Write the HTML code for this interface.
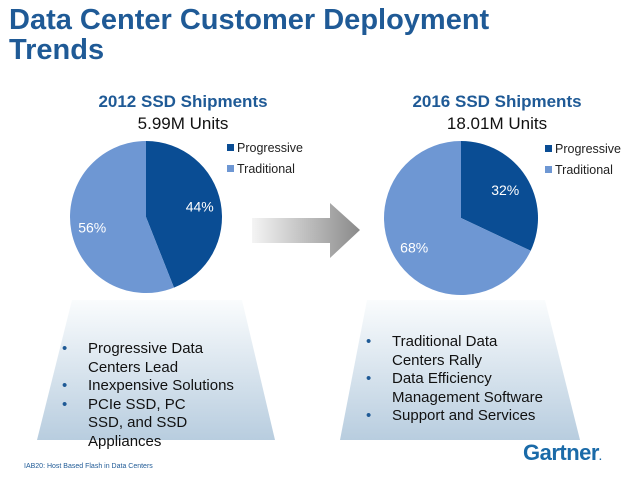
<!DOCTYPE html>
<html><head><meta charset="utf-8"><style>
body{margin:0;width:638px;height:479px;background:#fff;overflow:hidden;font-family:"Liberation Sans",sans-serif;position:relative}
.t{position:absolute;white-space:nowrap}
ul{position:absolute;margin:0;padding:0;list-style:none;font-size:15px;line-height:18.5px;color:#111}
li{position:relative;padding-left:26px}
li:before{content:"•";position:absolute;left:0;color:#1f5a96}
</style></head><body>
<div class="t" style="left:9px;top:5px;font-size:29px;font-weight:bold;color:#1f5a96;line-height:30px">Data Center Customer Deployment<br>Trends</div>
<div class="t" style="left:90px;top:92px;width:186px;text-align:center;font-size:17px;font-weight:bold;color:#1f5a96">2012 SSD Shipments</div>
<div class="t" style="left:90px;top:114px;width:186px;text-align:center;font-size:17px;color:#111">5.99M Units</div>
<div class="t" style="left:404px;top:92px;width:186px;text-align:center;font-size:17px;font-weight:bold;color:#1f5a96">2016 SSD Shipments</div>
<div class="t" style="left:404px;top:114px;width:186px;text-align:center;font-size:17px;color:#111">18.01M Units</div>
<svg id="svg" width="638" height="479" style="position:absolute;left:0;top:0">
<defs>
<linearGradient id="tg" x1="0" y1="0" x2="0" y2="1"><stop offset="0" stop-color="#fafcfd"/><stop offset="1" stop-color="#b8cddf"/></linearGradient>
<linearGradient id="ag" x1="0" y1="0" x2="1" y2="0"><stop offset="0" stop-color="#f4f4f4"/><stop offset="1" stop-color="#8a8a8a"/></linearGradient>
</defs>
<polygon points="72,300 242,300 275,440 37,440" fill="url(#tg)"/>
<polygon points="367,300 545,300 580,440 340,440" fill="url(#tg)"/>
<polygon points="252,218 330,218 330,203 360,230 330,258 330,243 252,243" fill="url(#ag)"/>
<g id="pies"></g>
</svg>
<ul style="left:62px;top:340px;width:200px">
<li>Progressive Data<br>Centers Lead</li>
<li>Inexpensive Solutions</li>
<li>PCIe SSD, PC<br>SSD, and SSD<br>Appliances</li>
</ul>
<ul style="left:366px;top:333px;width:220px">
<li>Traditional Data<br>Centers Rally</li>
<li>Data Efficiency<br>Management Software</li>
<li>Support and Services</li>
</ul>
<div class="t" style="left:24px;top:463px;font-size:7px;color:#1f5a96">IAB20: Host Based Flash in Data Centers</div>
<div class="t" style="left:523px;top:440px;font-size:22px;font-weight:bold;color:#1a6aa8;letter-spacing:-0.5px">Gartner<span style="font-size:10px">.</span></div>
<script>
const categories=["Progressive","Traditional"];
const values2012=[44,56];
const values2016=[32,68];
const colors=["#0a4d94","#6e97d3"];
const NS="http://www.w3.org/2000/svg";
const g=document.getElementById('pies');
function pie(vals,cx,cy,r,lx,ly,labelPos,year){
 let tot=vals.reduce((a,b)=>a+b,0),a0=-Math.PI/2;
 vals.forEach((v,i)=>{
  const a1=a0+v/tot*2*Math.PI;
  const p=document.createElementNS(NS,'path');
  const large=(a1-a0)>Math.PI?1:0;
  p.setAttribute('d',`M${cx},${cy}L${cx+r*Math.cos(a0)},${cy+r*Math.sin(a0)}A${r},${r} 0 ${large} 1 ${cx+r*Math.cos(a1)},${cy+r*Math.sin(a1)}Z`);
  p.setAttribute('fill',colors[i]);
  
  
  g.appendChild(p);
  const am=(a0+a1)/2,rr=r*labelPos[i];
  const t=document.createElementNS(NS,'text');
  t.setAttribute('x',cx+rr*Math.cos(am));t.setAttribute('y',cy+rr*Math.sin(am)+5);
  t.setAttribute('text-anchor','middle');t.setAttribute('fill','#fff');t.setAttribute('font-size','14');
  t.textContent=v+'%';
  
  
  g.appendChild(t);
  const sq=document.createElementNS(NS,'rect');
  sq.setAttribute('x',lx);sq.setAttribute('y',ly+i*21-4);sq.setAttribute('width',7);sq.setAttribute('height',7);sq.setAttribute('fill',colors[i]);
  
  
  g.appendChild(sq);
  const lt=document.createElementNS(NS,'text');
  lt.setAttribute('x',lx+10);lt.setAttribute('y',ly+i*21+4);lt.setAttribute('font-size','12.5');lt.setAttribute('fill','#222');
  lt.textContent=categories[i];
  
  
  g.appendChild(lt);
  a0=a1;
 });
}
pie(values2012,146,217,76,227,148,[0.72,0.72],'2012');
pie(values2016,461,218,77,545,149,[0.68,0.72],'2016');
</script>
</body></html>
